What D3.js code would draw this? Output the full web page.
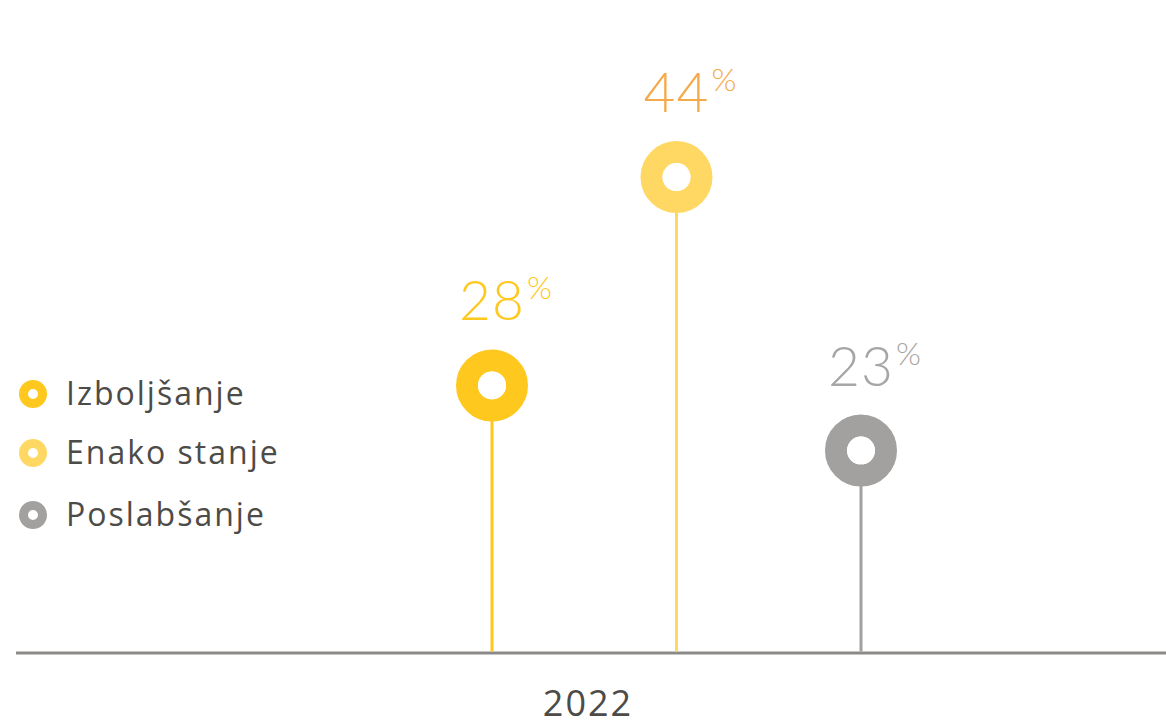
<!DOCTYPE html>
<html><head><meta charset="utf-8">
<script src="https://cdn.jsdelivr.net/npm/d3@7"></script>
<style>html,body{margin:0;padding:0;background:#fff;overflow:hidden}</style>
</head><body>
<svg id="c" width="1166" height="721"></svg>
<script>
const years = ["2022"];
const series = ["Izboljšanje", "Enako stanje", "Poslabšanje"];
const values = [28, 44, 23];
const colors = ["#FFC81F", "#FFD864", "#A3A19F"];
const labelColors = ["#FFC81F", "#F4A94A", "#A8A6A4"];

const svg = d3.select("#c");
const font = "Lato, 'Open Sans', sans-serif";
const font2 = "'Open Sans', sans-serif";
const baseY = 653;

const x = d3.scaleBand().domain(years).range([16, 1160]);
const xs = d3.scalePoint().domain(series).range([492, 861]);
const y = d3.scaleLinear().domain([0, 50]).range([750, 99]);

// axis line
svg.append("line").attr("x1", 16).attr("x2", 1166).attr("y1", baseY).attr("y2", baseY)
  .attr("stroke", "#8C8A88").attr("stroke-width", 3);
svg.append("text").attr("x", x("2022") + x.bandwidth() / 2).attr("y", 716)
  .attr("text-anchor", "middle").attr("font-family", font2).attr("font-size", 36)
  .attr("letter-spacing", 2).attr("fill", "#4D4B48").text(years[0]);

series.forEach((s, i) => {
  const cx = xs(s), cy = y(values[i]);
  svg.append("line").attr("x1", cx).attr("x2", cx).attr("y1", baseY - 1.5).attr("y2", cy)
    .attr("stroke", colors[i]).attr("stroke-width", 3);
  svg.append("circle").attr("cx", cx).attr("cy", cy).attr("r", 25)
    .attr("fill", "none").attr("stroke", colors[i]).attr("stroke-width", 22);
  svg.append("circle").attr("cx", cx).attr("cy", cy).attr("r", 14).attr("fill", "#fff");
  const t = svg.append("text").attr("x", cx).attr("y", cy - 65)
    .attr("text-anchor", "middle").attr("font-family", font).attr("font-weight", 300)
    .attr("font-size", 55).attr("letter-spacing", 1).attr("fill", labelColors[i]).text(values[i]);
  const w = t.node().getComputedTextLength();
  svg.append("text").attr("x", cx + w / 2 + 2).attr("y", cy - 86)
    .attr("font-family", font).attr("font-weight", 300)
    .attr("font-size", 32).attr("fill", labelColors[i]).text("%");
});

// legend
const ly = [394, 453, 515];
series.forEach((s, i) => {
  svg.append("circle").attr("cx", 33).attr("cy", ly[i]).attr("r", 9.5)
    .attr("fill", "none").attr("stroke", colors[i]).attr("stroke-width", 9);
  svg.append("text").attr("x", 66).attr("y", ly[i] + 11)
    .attr("font-family", font2).attr("font-size", 32).attr("letter-spacing", 2)
    .attr("fill", "#4D4B48").text(s);
});
</script>
</body></html>
